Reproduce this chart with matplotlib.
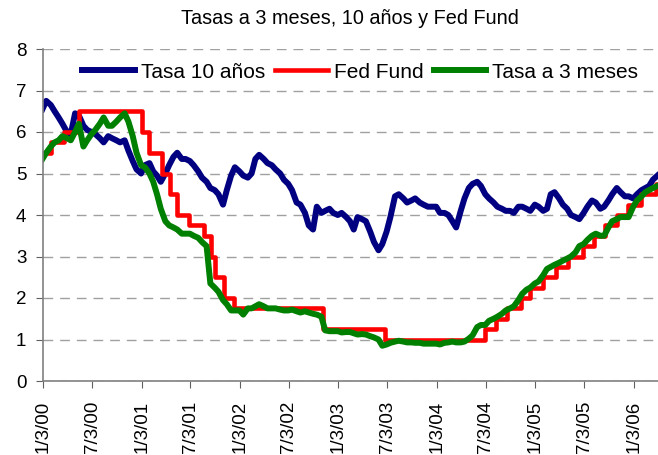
import pandas as pd
import matplotlib
matplotlib.use("Agg")
import matplotlib.pyplot as plt

plt.rcParams['font.family'] = ['Liberation Sans', 'DejaVu Sans']

# fechas quincenales (1 y 15 de cada mes), ene-2000 .. abr-2006
fechas = pd.date_range("2000-01-01", "2006-04-01", freq="SMS")

# Tasa 10 años (%)
tasa_10 = [
    6.55, 6.75, 6.65, 6.50, 6.35, 6.20, 6.00, 5.95, 6.45, 6.40, 6.15, 6.05,
    6.00, 5.95, 5.85, 5.75, 5.90, 5.85, 5.80, 5.75, 5.80, 5.55, 5.30, 5.10,
    5.00, 5.20, 5.25, 5.05, 4.95, 4.80, 5.00, 5.20, 5.40, 5.50, 5.35, 5.35,
    5.30, 5.20, 5.05, 4.90, 4.80, 4.65, 4.60, 4.50, 4.25, 4.60, 4.95, 5.15,
    5.05, 4.95, 4.90, 5.00, 5.35, 5.45, 5.35, 5.25, 5.20, 5.10, 5.00, 4.85,
    4.75, 4.60, 4.30, 4.25, 4.05, 3.75, 3.65, 4.20, 4.05, 4.10, 4.15, 4.05,
    4.00, 4.05, 3.95, 3.85, 3.65, 3.95, 3.90, 3.85, 3.60, 3.35, 3.15, 3.30,
    3.60, 3.95, 4.45, 4.50, 4.40, 4.30, 4.35, 4.40, 4.30, 4.25, 4.20, 4.20,
    4.20, 4.05, 4.05, 4.00, 3.85, 3.70, 4.10, 4.40, 4.65, 4.75, 4.80, 4.70,
    4.50, 4.40, 4.30, 4.20, 4.15, 4.10, 4.10, 4.05, 4.20, 4.20, 4.15, 4.10,
    4.25, 4.20, 4.10, 4.15, 4.50, 4.55, 4.40, 4.25, 4.15, 4.00, 3.95, 3.90,
    4.05, 4.20, 4.35, 4.30, 4.15, 4.20, 4.35, 4.50, 4.65, 4.55, 4.45, 4.45,
    4.40, 4.50, 4.60, 4.65, 4.70, 4.85, 4.95,
]

# Tasa a 3 meses (%)
tasa_3m = [
    5.35, 5.50, 5.65, 5.75, 5.80, 5.90, 5.85, 5.80, 6.00, 6.20, 5.65, 5.80,
    5.95, 6.05, 6.20, 6.35, 6.15, 6.15, 6.25, 6.35, 6.45, 6.25, 5.90, 5.50,
    5.20, 5.15, 5.00, 4.80, 4.50, 4.15, 3.85, 3.75, 3.70, 3.65, 3.55, 3.55,
    3.55, 3.50, 3.45, 3.35, 3.25, 2.35, 2.25, 2.15, 1.95, 1.85, 1.70, 1.70,
    1.70, 1.60, 1.75, 1.75, 1.80, 1.85, 1.80, 1.75, 1.75, 1.75, 1.72, 1.70,
    1.70, 1.72, 1.68, 1.65, 1.68, 1.65, 1.62, 1.60, 1.55, 1.22, 1.20, 1.20,
    1.20, 1.17, 1.18, 1.18, 1.15, 1.12, 1.13, 1.12, 1.08, 1.05, 1.00, 0.85,
    0.88, 0.92, 0.95, 0.97, 0.95, 0.93, 0.93, 0.92, 0.92, 0.90, 0.90, 0.90,
    0.90, 0.88, 0.92, 0.93, 0.95, 0.93, 0.93, 0.95, 1.02, 1.10, 1.30, 1.35,
    1.35, 1.45, 1.50, 1.55, 1.62, 1.70, 1.75, 1.80, 1.95, 2.10, 2.20, 2.25,
    2.35, 2.40, 2.55, 2.70, 2.75, 2.80, 2.85, 2.90, 2.95, 3.00, 3.10, 3.25,
    3.30, 3.40, 3.50, 3.55, 3.50, 3.50, 3.70, 3.85, 3.90, 3.95, 3.95, 3.95,
    4.20, 4.35, 4.45, 4.55, 4.60, 4.65, 4.70,
]

# Fed Fund (objetivo), fechas de cambio
ff_fechas = pd.to_datetime([
    "2000-01-03", "2000-02-02", "2000-03-21", "2000-05-16", "2001-01-03",
    "2001-01-31", "2001-03-20", "2001-04-18", "2001-05-15", "2001-06-27",
    "2001-08-21", "2001-09-17", "2001-10-02", "2001-11-06", "2001-12-11",
    "2002-11-06", "2003-06-25", "2004-06-30", "2004-08-10", "2004-09-21",
    "2004-11-10", "2004-12-14", "2005-02-02", "2005-03-22", "2005-05-03",
    "2005-06-30", "2005-08-09", "2005-09-20", "2005-11-01", "2005-12-13",
    "2006-01-31", "2006-03-28", "2006-03-31",
])
ff_vals = [
    5.50, 5.75, 6.00, 6.50, 6.00, 5.50, 5.00, 4.50, 4.00, 3.75,
    3.50, 3.00, 2.50, 2.00, 1.75, 1.25, 1.00, 1.25, 1.50, 1.75,
    2.00, 2.25, 2.50, 2.75, 3.00, 3.25, 3.50, 3.75, 4.00, 4.25,
    4.50, 4.75, 4.75,
]

tick_fechas = pd.to_datetime([f"{a}-{m:02d}-03" for a in range(2000, 2007) for m in (1, 7)][:13])
tick_labels = ["1/3/00", "7/3/00", "1/3/01", "7/3/01", "1/3/02", "7/3/02", "1/3/03",
               "7/3/03", "1/3/04", "7/3/04", "1/3/05", "7/3/05", "1/3/06"]

fig = plt.figure(figsize=(6.58, 4.55), dpi=100)
ax = fig.add_axes([43 / 658, 74 / 455, 615 / 658, 332 / 455])

ax.plot(fechas, tasa_10, color="#000080", lw=4.3, label="Tasa 10 años")
ax.plot(ff_fechas, ff_vals, color="#ff0000", lw=3.3, drawstyle="steps-post", label="Fed Fund")
ax.plot(fechas, tasa_3m, color="#008000", lw=4.3, label="Tasa a 3 meses")

ax.set_xlim(pd.Timestamp("2000-01-03"), pd.Timestamp("2006-04-03"))
ax.set_ylim(0, 8)
ax.set_yticks(range(9))
ax.set_xticks(tick_fechas)
ax.set_xticklabels(tick_labels, rotation=90)

ax.set_axisbelow(True)
ax.yaxis.grid(True, color="#a0a0a0", linestyle=(0, (7, 5)), lw=1)

for s in ["top", "right"]:
    ax.spines[s].set_visible(False)
for s in ["left", "bottom"]:
    ax.spines[s].set_color("#808080")
    ax.spines[s].set_linewidth(1.2)

ax.tick_params(axis="both", direction="out", length=5, color="#606060", labelsize=13.5)
ax.tick_params(axis="y", pad=7)
ax.tick_params(axis="x", pad=9)

ax.legend(loc="center", bbox_to_anchor=(0.516, 0.93), ncol=3, frameon=False, fontsize=15,
          handlelength=2.5, handletextpad=0.3, columnspacing=0.5, borderpad=0, borderaxespad=0)

fig.text(350 / 658, 1 - 18 / 455, "Tasas a 3 meses, 10 años y Fed Fund",
         ha="center", va="center", fontsize=14.3)

fig.savefig("out.png", dpi=100)
